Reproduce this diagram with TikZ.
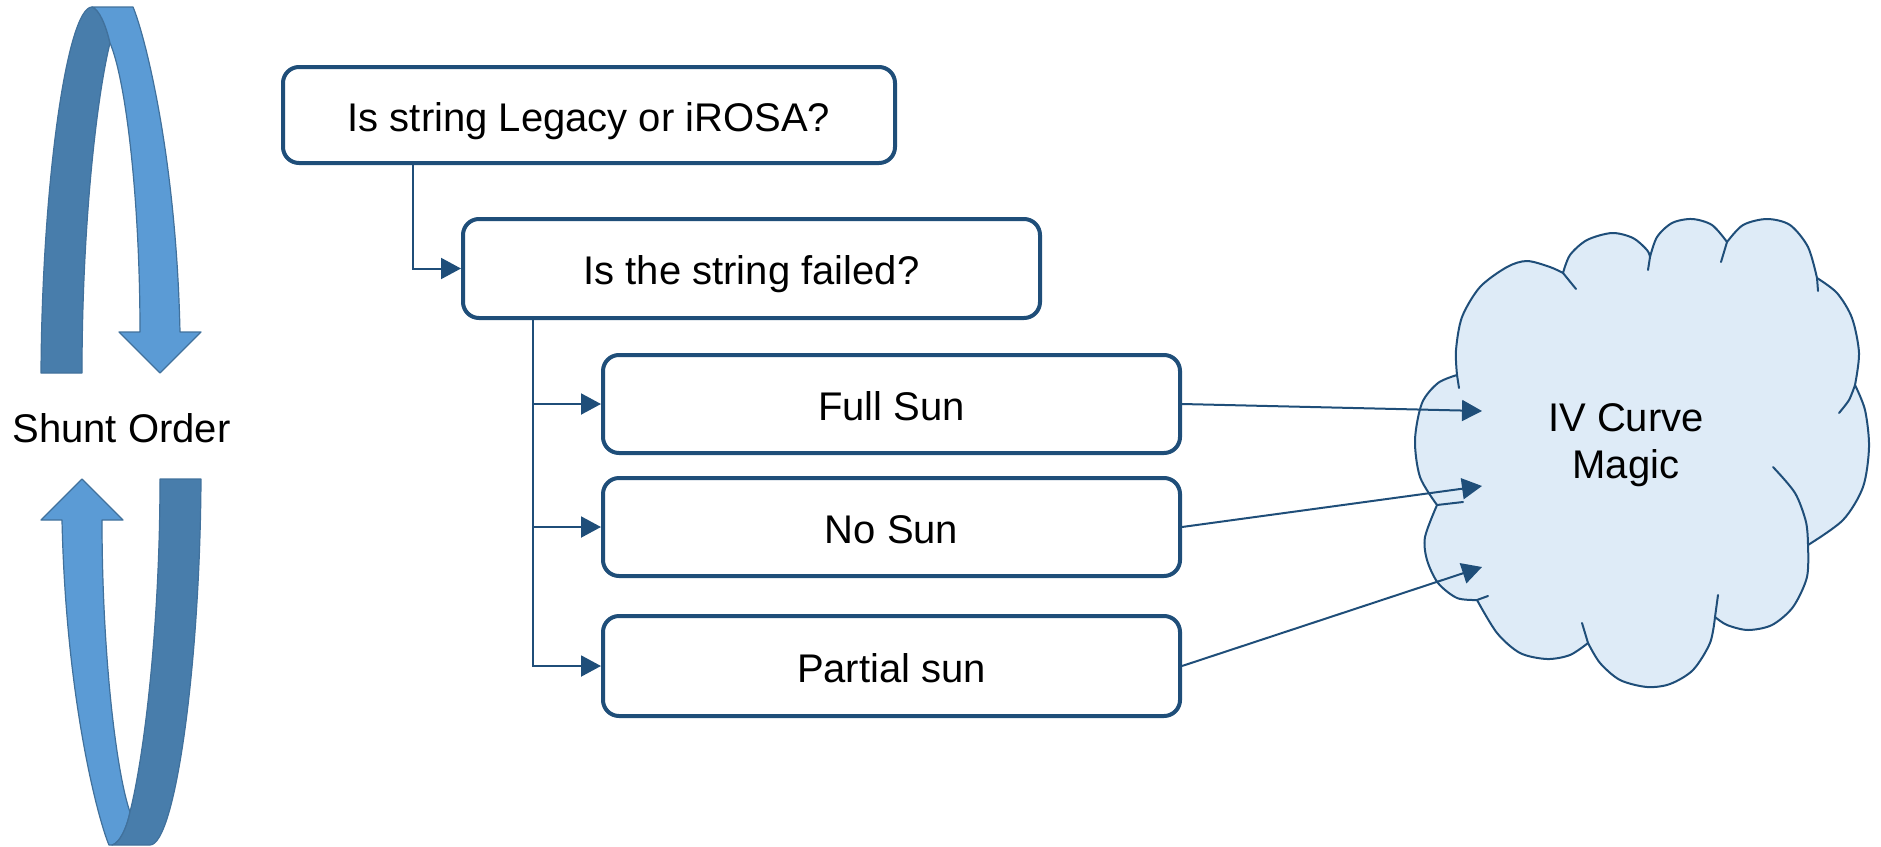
\documentclass[tikz,border=0pt]{standalone}
\usepackage{fontspec}
\setmainfont{Liberation Sans}
\usetikzlibrary{calc,arrows.meta}
\definecolor{boxblue}{HTML}{1F4E79}
\definecolor{cloudfill}{HTML}{DEEBF7}
\definecolor{ribbon}{HTML}{5B9BD5}
\definecolor{ribbondark}{HTML}{487DAB}
\definecolor{ribbonedge}{HTML}{41719C}
\tikzset{
  box/.style={draw=boxblue, fill=white, line width=4pt, rounded corners=16pt,
    minimum width=577pt, minimum height=98pt, inner sep=0pt,
    text height=32pt, text depth=0pt, font=\fontsize{40}{47}\selectfont},
  conn/.style={draw=boxblue, line width=2pt, -{Triangle[length=20pt,width=21pt]}},
  cloudline/.style={draw=boxblue, line width=2pt, line join=round, line cap=round},
  front/.style={fill=ribbon, draw=ribbonedge, line width=1.2pt, line join=round},
  back/.style={fill=ribbondark, draw=ribbonedge, line width=1.2pt, line join=round},
  lab/.style={text=black, font=\fontsize{40}{47}\selectfont},
}

\begin{document}
\begin{tikzpicture}[x=1pt, y=-1pt]
  \useasboundingbox (0,0) rectangle (1881,846);

  % shunt order ribbons
  \path[back] (41,373) .. controls (42,185) and (67,7) .. (92,7)
    .. controls (99,9) and (106,25) .. (110,43)
    .. controls (96,100) and (82,230) .. (82,373) -- cycle;
  \path[front] (92,7) -- (133,7)
    .. controls (143,30) and (176,150) .. (180,332)
    -- (201,332) -- (160,373) -- (119,332) -- (140,332)
    .. controls (140,200) and (126,80) .. (110,43)
    .. controls (106,25) and (99,9) .. (92,7) -- cycle;
  \begin{scope}[rotate around={180:(121,426)}]
    \path[front] (130,7) -- (133,7)
      .. controls (143,30) and (176,150) .. (180,332)
      -- (201,332) -- (160,373) -- (119,332) -- (140,332)
      .. controls (140,200) and (126,80) .. (112,40)
      .. controls (115,25) and (122,9) .. (130,7) -- cycle;
    \path[back] (41,373) .. controls (42,185) and (67,7) .. (92,7) -- (130,7)
      .. controls (122,9) and (115,25) .. (112,40)
      .. controls (97,100) and (82,230) .. (82,373) -- cycle;
  \end{scope}
  \node[lab, anchor=base] (shunt) at (121.5,442) {Shunt Order};

  % decision boxes
  \node[box, minimum width=612pt, minimum height=96pt] (legacy) at (589,115) {Is string Legacy or iROSA?};
  \node[box, minimum height=99pt] (failed) at (751.5,268.5) {Is the string failed?};
  \node[box] (fullsun) at (891.5,404) {Full Sun};
  \node[box] (nosun) at (891.5,527) {No Sun};
  \node[box, minimum height=100pt] (partial) at (891.5,666) {Partial sun};

  \draw[conn] ($(legacy.south west)+(132,0)$) |- (failed.west);
  \coordinate (trunk) at ($(failed.south west)+(72,0)$);
  \draw[conn] (trunk) |- (partial.west);
  \draw[conn] (trunk |- fullsun.west) -- (fullsun.west);
  \draw[conn] (trunk |- nosun.west) -- (nosun.west);

  % cloud
  \draw[cloudline, fill=cloudfill]
    plot[smooth] coordinates {(1457,375) (1456,350) (1462,317) (1480,287) (1507,267) (1527,261) (1550,267) (1563,273)}
    -- plot[smooth] coordinates {(1563,273) (1570,255) (1587,240) (1612,233) (1633,238) (1647,250) (1650,257)}
    -- plot[smooth] coordinates {(1650,257) (1657,237) (1672,223) (1692,219) (1712,225) (1727,242)}
    -- plot[smooth] coordinates {(1727,242) (1743,225) (1767,219) (1790,225) (1808,247) (1817,278)}
    -- plot[smooth] coordinates {(1817,278) (1837,293) (1852,318) (1859,353) (1855,385)}
    -- plot[smooth] coordinates {(1855,385) (1865,410) (1869,447) (1863,487) (1843,520) (1808,545)}
    -- plot[smooth] coordinates {(1808,545) (1807,577) (1793,607) (1772,625) (1748,630) (1727,625) (1715,617)}
    -- plot[smooth] coordinates {(1715,617) (1710,643) (1693,670) (1670,684) (1647,687) (1620,680) (1600,663) (1588,643)}
    -- plot[smooth] coordinates {(1588,643) (1570,655) (1547,659) (1520,653) (1497,633) (1477,600)}
    -- plot[smooth] coordinates {(1477,600) (1457,598) (1438,583) (1427,560) (1425,537) (1437,505)}
    -- plot[smooth] coordinates {(1437,505) (1420,477) (1415,440) (1422,403) (1438,383) (1457,375)}
    -- cycle;
  \draw[cloudline] (1457,375) -- (1459,388);
  \draw[cloudline] (1563,273) -- (1576,289);
  \draw[cloudline] (1650,257) -- (1648,270);
  \draw[cloudline] (1727,242) -- (1721,262);
  \draw[cloudline] (1817,278) -- (1818,291);
  \draw[cloudline] plot[smooth] coordinates {(1855,385) (1849,400) (1839,413)};
  \draw[cloudline] plot[smooth] coordinates {(1773,467) (1795,493) (1806,522) (1808,545)};
  \draw[cloudline] (1715,617) -- (1718,595);
  \draw[cloudline] (1588,643) -- (1582,623);
  \draw[cloudline] (1477,600) -- (1488,596);
  \draw[cloudline] (1437,505) -- (1463,502);
  \node[lab, align=center] (magic) at (1626,445) {IV Curve\\Magic};

  \coordinate (inA) at (1482,411);
  \coordinate (inB) at (1482,486);
  \coordinate (inC) at (1482,567);
  \draw[conn] (fullsun.east) -- (inA);
  \draw[conn] (nosun.east) -- (inB);
  \draw[conn] (partial.east) -- (inC);
\end{tikzpicture}
\end{document}
